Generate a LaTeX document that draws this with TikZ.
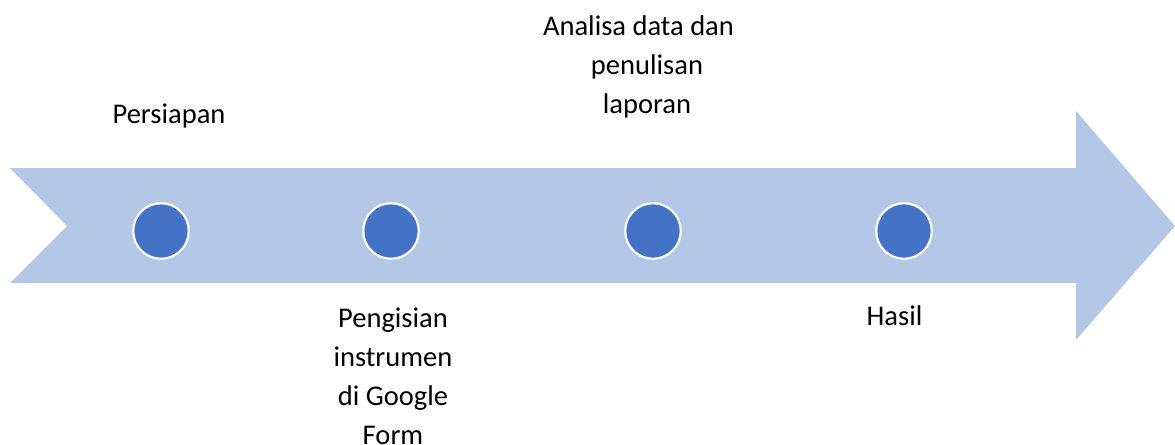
\documentclass[tikz,border=0pt]{standalone}
\usepackage{fontspec}
\setmainfont{Carlito}
\definecolor{arrowfill}{HTML}{B4C7E7}
\definecolor{dotfill}{HTML}{4472C4}
\begin{document}
\begin{tikzpicture}[x=0.75pt,y=-0.75pt,
  dot/.style={circle,fill=dotfill,draw=white,line width=1.6pt,minimum size=55.5*0.75pt,inner sep=0pt},
  lbl/.style={font=\fontsize{21.4pt}{29.25pt}\selectfont,align=center,inner sep=0pt,anchor=base,text=black}]
\useasboundingbox (0,0) rectangle (1175,444);
\fill[arrowfill] (10,168) -- (1076,168) -- (1076,111) -- (1175,226) -- (1076,340) -- (1076,283) -- (10,283) -- (67,226) -- cycle;
\node[dot] (c1) at (161,231) {};
\node[dot] (c2) at (391,231) {};
\node[dot] (c3) at (653,231) {};
\node[dot] (c4) at (904,231) {};
\node[lbl] (l1) at (169,123) {Persiapan};
\node[lbl] (l2) at (393,444) {Pengisian\\instrumen\\di Google\\Form};
\node[lbl] (l3) at (647,113) {Analisa data dan\hspace*{12.75pt}\\penulisan\\laporan};
\node[lbl] (l4) at (894.5,325) {Hasil};
\end{tikzpicture}
\end{document}
